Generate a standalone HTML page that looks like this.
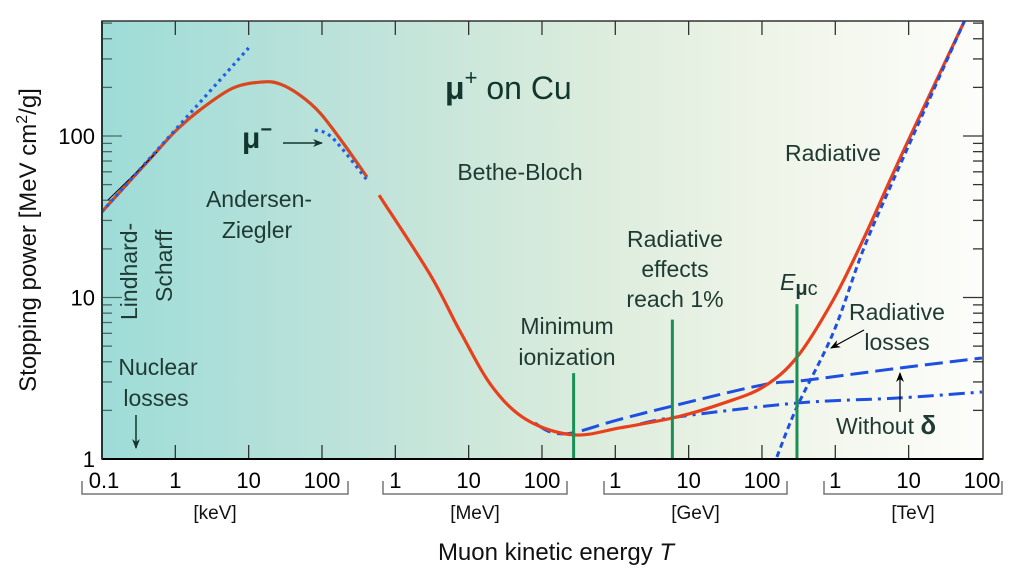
<!DOCTYPE html>
<html><head><meta charset="utf-8"><style>
html,body{margin:0;padding:0;background:#fff;}
svg{display:block;font-family:"Liberation Sans",sans-serif;}
.lab{fill:#1f3a33;font-size:23px;}
.tick{fill:#000;font-size:22px;}
</style></head><body>
<svg id="chart" width="1012" height="584" viewBox="0 0 1012 584">
<defs>
<linearGradient id="bg" x1="0" x2="1" y1="0" y2="0">
<stop offset="0" stop-color="#9edcd8"/><stop offset="0.3" stop-color="#bfe3da"/>
<stop offset="0.55" stop-color="#dbecdc"/><stop offset="0.75" stop-color="#eef4e7"/><stop offset="1" stop-color="#fdfdfb"/>
</linearGradient>
<clipPath id="clip"><rect x="102" y="21" width="881" height="438"/></clipPath>
<marker id="ah" markerWidth="10" markerHeight="8" refX="9" refY="4" orient="auto" markerUnits="userSpaceOnUse"><path d="M0,0 L10,4 L0,8 L3,4z" fill="#12352d"/></marker>
<marker id="ahk" markerWidth="10" markerHeight="8" refX="9" refY="4" orient="auto" markerUnits="userSpaceOnUse"><path d="M0,0 L10,4 L0,8 L3,4z" fill="#000"/></marker>
</defs>
<rect x="102" y="21" width="881" height="438" fill="url(#bg)"/>
<g id="ticks"></g>
<g id="series" clip-path="url(#clip)"></g>
<rect x="102" y="21" width="881" height="438" fill="none" stroke="#333" stroke-width="1.5"/>
<line x1="102" y1="459" x2="983" y2="459" stroke="#000" stroke-width="2"/>
<line x1="102" y1="21" x2="102" y2="459" stroke="#1e3a33" stroke-width="2"/>
<g id="labels"></g>
<text transform="translate(36,240) rotate(-90)" text-anchor="middle" font-size="24" fill="#111">Stopping power [MeV cm<tspan dy="-9" font-size="16">2</tspan><tspan dy="9">/g]</tspan></text>
<text x="556" y="560" text-anchor="middle" font-size="24" fill="#111">Muon kinetic energy <tspan font-style="italic">T</tspan></text>

<text x="445" y="99" font-size="32" fill="#12352d"><tspan font-weight="bold">μ</tspan><tspan dy="-14" font-size="22">+</tspan><tspan dy="14"> on Cu</tspan></text>
<text x="242" y="148" font-size="30" font-weight="bold" fill="#12352d">μ<tspan dy="-12" font-size="20">−</tspan></text>
<line x1="283" y1="143" x2="322" y2="143" stroke="#12352d" stroke-width="1.5" marker-end="url(#ah)"/>
<text class="lab" text-anchor="middle"><tspan x="259" y="207">Andersen-</tspan><tspan x="257" y="238">Ziegler</tspan></text>
<text class="lab" transform="translate(137,320) rotate(-90)">Lindhard-</text>
<text class="lab" transform="translate(172,302) rotate(-90)">Scharff</text>
<text class="lab" x="520" y="180" text-anchor="middle" font-size="25">Bethe-Bloch</text>
<text class="lab" x="833" y="161" text-anchor="middle">Radiative</text>
<text class="lab" text-anchor="middle"><tspan x="675" y="247">Radiative</tspan><tspan x="675" y="277">effects</tspan><tspan x="675" y="307">reach 1%</tspan></text>
<text class="lab" text-anchor="middle"><tspan x="567" y="334">Minimum</tspan><tspan x="567" y="365">ionization</tspan></text>
<text class="lab" x="780" y="290"><tspan font-style="italic">E</tspan><tspan dy="5" font-size="20" font-weight="bold">μ</tspan><tspan font-size="20">c</tspan></text>
<text class="lab" text-anchor="middle"><tspan x="897" y="320">Radiative</tspan><tspan x="897" y="350">losses</tspan></text>
<line x1="864" y1="330" x2="831" y2="348" stroke="#000" stroke-width="1.2" marker-end="url(#ahk)"/>
<text class="lab" x="836" y="434">Without <tspan font-weight="bold" font-size="26">δ</tspan></text>
<line x1="900" y1="412" x2="900" y2="373" stroke="#000" stroke-width="1.2" marker-end="url(#ahk)"/>
<text class="lab" text-anchor="middle"><tspan x="158" y="375">Nuclear</tspan><tspan x="156" y="406">losses</tspan></text>
<line x1="136" y1="415" x2="136" y2="448" stroke="#12352d" stroke-width="1.5" marker-end="url(#ah)"/>
</svg>
<script>
// Energies T in MeV, stopping power S in MeV cm^2/g
const redLowT = [1e-4, 4.5e-4, 1e-3, 2.17e-3, 6.1e-3, 0.0152, 0.0267, 0.0501, 0.094, 0.194, 0.411];
const redLowS = [34, 72, 107, 145, 198, 216, 210, 179, 139, 90.5, 55.7];
const redHighT = [0.6, 3, 7.6, 21, 63, 270, 1170, 6900, 30000, 1.05e5, 3e5, 9.3e5, 2.4e6, 8.5e6, 5.75e7];
const redHighS = [43, 13.8, 6.2, 2.8, 1.74, 1.41, 1.56, 1.82, 2.22, 2.8, 4.27, 9.6, 22.8, 81, 513];
const lindhardT = [1e-4, 0.01];
const lindhardS = [34, 351];
const muMinusT = [0.08, 0.14, 0.43];
const muMinusS = [109, 97, 52];
const dashedT = [80, 130, 260, 1050, 6900, 1.0e5, 4.1e5, 7.6e6, 1.0e8];
const dashedS = [1.67, 1.47, 1.45, 1.74, 2.16, 2.87, 3.08, 3.66, 4.22];
const noDeltaT = [2200, 6900, 3.0e5, 7.6e6, 1e8];
const noDeltaS = [1.65, 1.82, 2.22, 2.39, 2.6];
const radT = [1.6e5, 3e5, 9.3e5, 2.4e6, 6.2e6, 5.75e7];
const radS = [1.03, 2.1, 6.0, 19.7, 53.5, 513];
const markerT = [270, 6000, 3.0e5];
const markerTopS = [3.4, 7.3, 9.1];
const xTickLabels = ["0.1","1","10","100","1","10","100","1","10","100","1","10","100"];
const unitLabels = ["[keV]","[MeV]","[GeV]","[TeV]"];
const yTickVals = [1, 10, 100];

const NS = "http://www.w3.org/2000/svg";
function X(t){ return 102 + (Math.log10(t) + 4) * 73.33; }
function Y(s){ return 459 - Math.log10(s) * 161.5; }
function mk(tag, attrs, parent){ const e = document.createElementNS(NS, tag); for (const k in attrs) e.setAttribute(k, attrs[k]); parent.appendChild(e); return e; }
function smooth(T, S){
  const p = T.map((t,i)=>[X(t), Y(S[i])]);
  let d = "M" + p[0][0].toFixed(1) + "," + p[0][1].toFixed(1);
  for (let i=0;i<p.length-1;i++){
    const p0=p[Math.max(0,i-1)], p1=p[i], p2=p[i+1], p3=p[Math.min(p.length-1,i+2)];
    const c1=[p1[0]+(p2[0]-p0[0])/6, p1[1]+(p2[1]-p0[1])/6];
    const c2=[p2[0]-(p3[0]-p1[0])/6, p2[1]-(p3[1]-p1[1])/6];
    d += " C"+c1.join(",")+" "+c2.join(",")+" "+p2.join(",");
  }
  return d;
}
const ser = document.getElementById("series");
const tk = document.getElementById("ticks");
const lb = document.getElementById("labels");

let e;
e = mk("path", {d: smooth(redLowT, redLowS), fill:"none", stroke:"#d9471f", "stroke-width":3.2}, ser);


e = mk("path", {d: smooth(dashedT, dashedS), fill:"none", stroke:"#1e4fe0", "stroke-width":3, "stroke-dasharray":"18,7"}, ser);


e = mk("path", {d: smooth(noDeltaT, noDeltaS), fill:"none", stroke:"#1e4fe0", "stroke-width":3, "stroke-dasharray":"16,6,3,6"}, ser);


e = mk("path", {d: smooth(redHighT, redHighS), fill:"none", stroke:"#e8401c", "stroke-width":3.2}, ser);


e = mk("path", {d: smooth(radT, radS), fill:"none", stroke:"#1e4fe0", "stroke-width":3, "stroke-dasharray":"6,4"}, ser);


e = mk("line", {x1:108, y1:200, x2:157, y2:152, stroke:"#000", "stroke-width":1}, ser);


e = mk("path", {d: smooth(lindhardT, lindhardS), fill:"none", stroke:"#1e5fe8", "stroke-width":3.2, "stroke-dasharray":"3,4"}, ser);


e = mk("path", {d: smooth(muMinusT, muMinusS), fill:"none", stroke:"#1e5fe8", "stroke-width":3.2, "stroke-dasharray":"3,4"}, ser);


for (let i=0;i<markerT.length;i++){
  e = mk("line", {x1:X(markerT[i]), x2:X(markerT[i]), y1:Y(markerTopS[i]), y2:459, stroke:"#1c8f55", "stroke-width":3}, ser);
  
  
}
for (let i=0;i<xTickLabels.length;i++){
  const t = Math.pow(10, i-4), x = X(t);
  if (i>0 && i<12){
    e = mk("line", {x1:x, x2:x, y1:445, y2:459, stroke:"#333", "stroke-width":1.3}, tk);
    
    
    e = mk("line", {x1:x, x2:x, y1:21, y2:35, stroke:"#333", "stroke-width":1.3}, tk);
    
    
  }
  e = mk("text", {x: i===0 ? 104 : x, y:488, "text-anchor":"middle", class:"tick"}, lb);
  e.textContent = xTickLabels[i];
  
  
}
const br = [[82,348],[383,567],[604,787],[824,1002]];
for (let i=0;i<br.length;i++){
  const [a,b] = br[i];
  e = mk("path", {d:`M${a},481 V494 H${b} V481`, fill:"none", stroke:"#777", "stroke-width":1.5}, lb);
  
  
  e = mk("text", {x:(a+b)/2, y:519, "text-anchor":"middle", "font-size":19, fill:"#111"}, lb);
  e.textContent = unitLabels[i];
  
  
}
for (let dec=0; dec<3; dec++){
  for (let m=1; m<=9; m++){
    const s = Math.pow(10,dec)*m, y = Y(s);
    if (y < 21) continue;
    const len = m===1 ? 20 : 10;
    e = mk("line", {x1:102, x2:102+len, y1:y, y2:y, stroke:"#4a6a62", "stroke-width":1.3}, tk);
    
    
    e = mk("line", {x1:983-len, x2:983, y1:y, y2:y, stroke:"#333", "stroke-width":1.3}, tk);
    
    
  }
}
for (const v of yTickVals){
  e = mk("text", {x:95, y:Y(v)+8, "text-anchor":"end", class:"tick", "font-size":23}, lb);
  e.textContent = String(v);
  
  
}
</script>
</body></html>
